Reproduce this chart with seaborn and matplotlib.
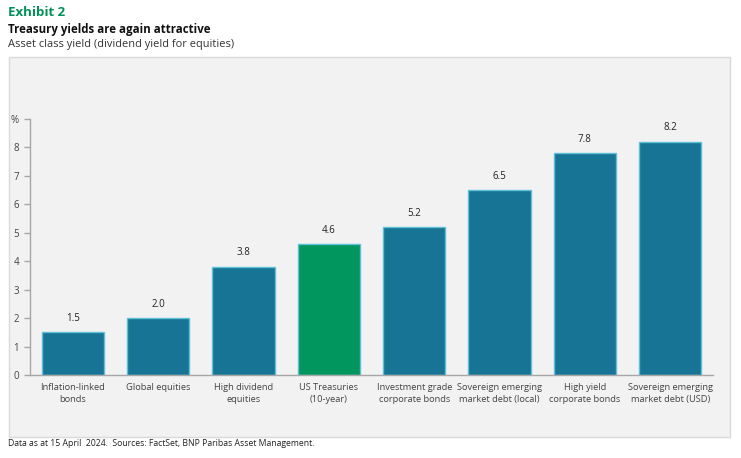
import matplotlib
matplotlib.use("Agg")
import matplotlib.pyplot as plt
import seaborn as sns
import pandas as pd
from matplotlib.patches import Rectangle
from matplotlib import font_manager

categories = ["Inflation-linked\nbonds", "Global equities", "High dividend\nequities",
              "US Treasuries\n(10-year)", "Investment grade\ncorporate bonds",
              "Sovereign emerging\nmarket debt (local)", "High yield\ncorporate bonds",
              "Sovereign emerging\nmarket debt (USD)"]
values = [1.5, 2.0, 3.8, 4.6, 5.2, 6.5, 7.8, 8.2]
labels = ["1.5", "2.0", "3.8", "4.6", "5.2", "6.5", "7.8", "8.2"]
highlight = "US Treasuries\n(10-year)"
ytick_vals = [0, 1, 2, 3, 4, 5, 6, 7, 8, 9]
ytick_labels = ["0", "1", "2", "3", "4", "5", "6", "7", "8", "%"]

sns.set_style("white")
plt.rcParams['font.family'] = ['Open Sans', 'DejaVu Sans']

names = {f.name for f in font_manager.fontManager.ttflist}
narrow = 'Liberation Sans Narrow' in names
HEAD = ['Liberation Sans Narrow', 'Open Sans', 'DejaVu Sans'] if narrow else ['Open Sans', 'DejaVu Sans']

BLUE = "#187494"
GREEN = "#00965E"
EDGE = "#5FBFD8"

fig = plt.figure(figsize=(7.41, 4.58), dpi=100)
fig.patch.set_facecolor("white")
panel = Rectangle((9/741, 1-437/458), 721/741, 380/458, transform=fig.transFigure,
                  facecolor="#F2F2F2", edgecolor="#D9D9D9", linewidth=1, zorder=-10)
fig.patches.append(panel)

ax = fig.add_axes([30/741, 1-375/458, 683/741, (375-119)/458])
ax.set_facecolor("none")
ax.set_zorder(1)

df = pd.DataFrame({"cat": categories, "val": values})
palette = {c: (GREEN if c == highlight else BLUE) for c in categories}
sns.barplot(data=df, x="cat", y="val", hue="cat", palette=palette, legend=False,
            width=0.73, edgecolor=EDGE, linewidth=1, saturation=1, ax=ax)

for i, (v, lab) in enumerate(zip(values, labels)):
    ax.text(i, v + 0.3, lab, ha="center", va="bottom", fontsize=7, color="#222222")

ax.set_xlim(-0.5, 7.5)
ax.set_ylim(0, 9)
ax.set_yticks(ytick_vals)
ax.set_yticklabels(ytick_labels)
ax.set_xlabel("")
ax.set_ylabel("")
for s in ["top", "right"]:
    ax.spines[s].set_visible(False)
for s in ["left", "bottom"]:
    ax.spines[s].set_color("#A6A6A6")
    ax.spines[s].set_linewidth(1)
ax.tick_params(axis="y", length=4, width=1, color="#A6A6A6", labelsize=7,
               labelcolor="#444444", pad=4, left=True)
ax.tick_params(axis="x", length=0, labelsize=6.7, labelcolor="#444444", pad=6)
for t in ax.get_xticklabels():
    t.set_linespacing(1.45)

s1, s2, s3 = (12, 11, 10) if narrow else (9.5, 8.3, 7.9)
fig.text(8/741, 1-12/458, "Exhibit 2", fontsize=s1, fontweight="bold", color="#00915A",
         ha="left", va="center", family=HEAD)
fig.text(8/741, 1-29/458, "Treasury yields are again attractive", fontsize=s2,
         fontweight="bold", color="#111111", ha="left", va="center", family=HEAD)
fig.text(8/741, 1-45/458, "Asset class yield (dividend yield for equities)", fontsize=s3,
         color="#333333", ha="left", va="center", family=HEAD)
fig.text(8/741, 1-444/458, "Data as at 15 April  2024.  Sources: FactSet, BNP Paribas Asset Management.",
         fontsize=6.2, color="#222222", ha="left", va="center")

fig.savefig("out.png", dpi=100)
